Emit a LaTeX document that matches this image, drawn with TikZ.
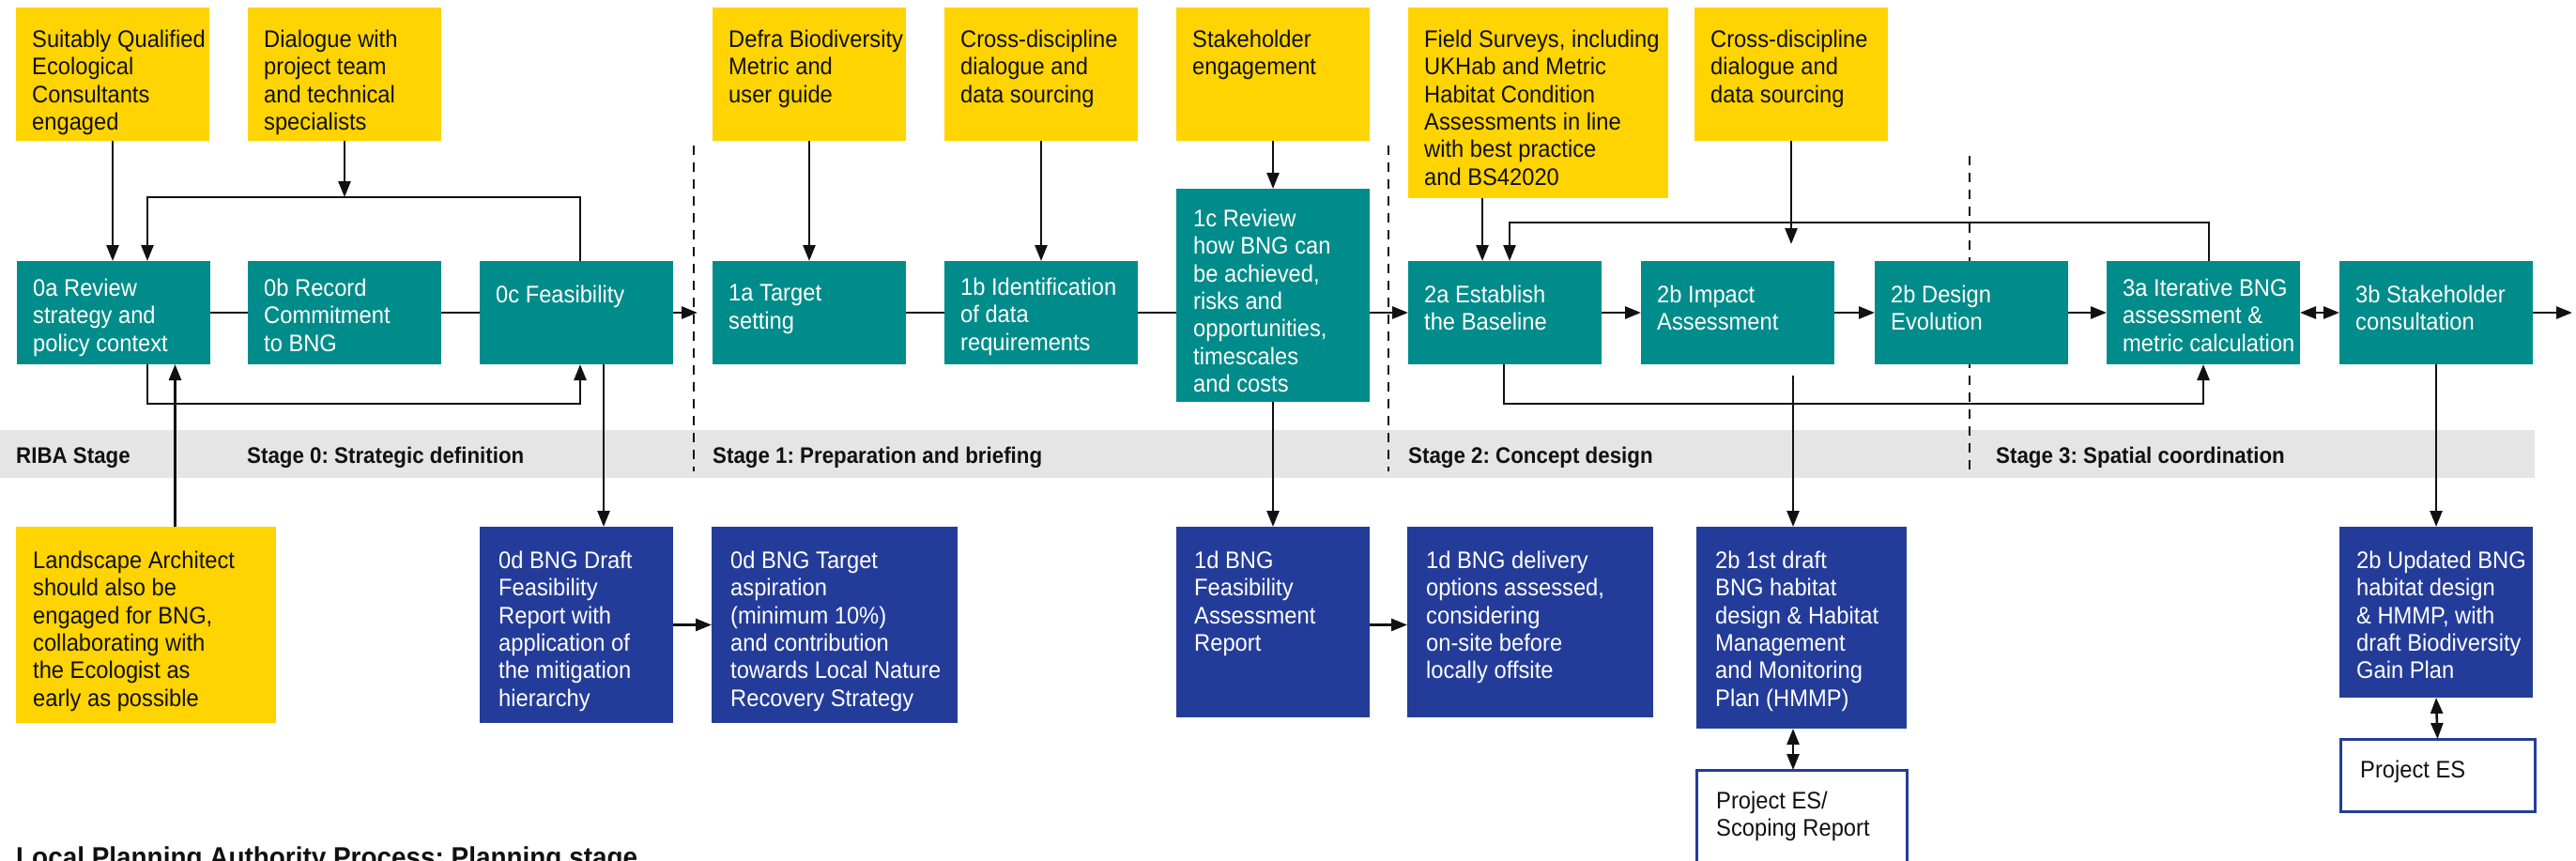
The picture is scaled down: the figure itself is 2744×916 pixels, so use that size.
\documentclass[tikz,border=0pt]{standalone}
\usepackage{fontspec}
\setmainfont{Liberation Sans}[FakeStretch=0.93]
\usetikzlibrary{arrows.meta}
\definecolor{bngyellow}{HTML}{FFD400}
\definecolor{bngteal}{HTML}{008C8A}
\definecolor{bngblue}{HTML}{243C99}
\definecolor{bandgray}{HTML}{E5E5E5}
\definecolor{inkblack}{HTML}{111111}

\newcommand\mkbox[9]{%
  \node[#1, minimum width=#5, minimum height=#6] (#2) at (#3,#4) {};
  \node[#1text] (#2t) at ({#3+#7},{#4+#8}) {#9};
}

\tikzset{
  box/.style={rectangle, inner sep=0pt, outer sep=0pt, anchor=north west},
  ybox/.style={box, fill=bngyellow},
  tbox/.style={box, fill=bngteal},
  bbox/.style={box, fill=bngblue},
  wbox/.style={box, fill=white, draw=bngblue, line width=3pt},
  txt/.style={font=\fontsize{25.5}{29.3}\selectfont, align=left, inner sep=0pt, anchor=north west},
  yboxtext/.style={txt, text=inkblack},
  tboxtext/.style={txt, text=white},
  bboxtext/.style={txt, text=white},
  wboxtext/.style={txt, text=inkblack},
  conn/.style={line width=2.6pt, draw=inkblack},
  arr/.style={conn, -{Triangle[length=17pt,width=13pt]}},
  darr/.style={conn, {Triangle[length=17pt,width=13pt]}-{Triangle[length=17pt,width=13pt]}},
  dashline/.style={line width=2.6pt, draw=inkblack, dash pattern=on 10pt off 8pt},
  band/.style={font=\bfseries\fontsize{24}{28}\selectfont, anchor=base west, inner sep=0pt, text=inkblack},
}

\begin{document}
\frenchspacing
\begin{tikzpicture}[x=1pt,y=-1pt]
\useasboundingbox (0,0) rectangle (2744,916);

% RIBA stage band
\fill[bandgray] (0,458) rectangle (2700,509);

% stage dividers
\draw[dashline] (739,155) -- (739,502);
\draw[dashline] (1479,155) -- (1479,502);
\draw[dashline] (2098,166) -- (2098,502);

% inputs (yellow)
\mkbox{ybox}{y1}{17}{8}{206}{142}{17}{24}{Suitably Qualified\\Ecological\\Consultants\\engaged}
\mkbox{ybox}{y2}{264}{8}{206}{142}{17}{24}{Dialogue with\\project team\\and technical\\specialists}
\mkbox{ybox}{y3}{759}{8}{206}{142}{17}{24}{Defra Biodiversity\\Metric and\\user guide}
\mkbox{ybox}{y4}{1006}{8}{206}{142}{17}{24}{Cross-discipline\\dialogue and\\data sourcing}
\mkbox{ybox}{y5}{1253}{8}{206}{142}{17}{24}{Stakeholder\\engagement}
\mkbox{ybox}{y6}{1500}{8}{277}{203}{17}{24}{Field Surveys, including\\UKHab and Metric\\Habitat Condition\\Assessments in line\\with best practice\\and BS42020}
\mkbox{ybox}{y7}{1805}{8}{206}{142}{17}{24}{Cross-discipline\\dialogue and\\data sourcing}

% process steps (teal)
\mkbox{tbox}{n0a}{18}{278}{206}{110}{17}{19}{0a Review\\strategy and\\policy context}
\mkbox{tbox}{n0b}{264}{278}{206}{110}{17}{19}{0b Record\\Commitment\\to BNG}
\mkbox{tbox}{n0c}{511}{278}{206}{110}{17}{26}{0c Feasibility}
\mkbox{tbox}{n1a}{759}{278}{206}{110}{17}{25}{1a Target\\setting}
\mkbox{tbox}{n1b}{1006}{278}{206}{110}{17}{18}{1b Identification\\of data\\requirements}
\mkbox{tbox}{n1c}{1253}{201}{206}{227}{18}{22}{1c Review\\how BNG can\\be achieved,\\risks and\\opportunities,\\timescales\\and costs}
\mkbox{tbox}{n2a}{1500}{278}{206}{110}{17}{26}{2a Establish\\the Baseline}
\mkbox{tbox}{n2b}{1748}{278}{206}{110}{17}{26}{2b Impact\\Assessment}
\mkbox{tbox}{n2d}{1997}{278}{206}{110}{17}{26}{2b Design\\Evolution}
\mkbox{tbox}{n3a}{2244}{278}{206}{110}{17}{19}{3a Iterative BNG\\assessment \&\\metric calculation}
\mkbox{tbox}{n3b}{2492}{278}{206}{110}{17}{26}{3b Stakeholder\\consultation}

% outputs
\mkbox{ybox}{la}{17}{561}{277}{209}{18}{26}{Landscape Architect\\should also be\\engaged for BNG,\\collaborating with\\the Ecologist as\\early as possible}
\mkbox{bbox}{d0}{511}{561}{206}{209}{20}{26}{0d BNG Draft\\Feasibility\\Report with\\application of\\the mitigation\\hierarchy}
\mkbox{bbox}{d0t}{758}{561}{262}{209}{20}{26}{0d BNG Target\\aspiration\\(minimum 10\%)\\and contribution\\towards Local Nature\\Recovery Strategy}
\mkbox{bbox}{f1}{1253}{561}{206}{203}{19}{26}{1d BNG\\Feasibility\\Assessment\\Report}
\mkbox{bbox}{f1d}{1499}{561}{262}{203}{20}{26}{1d BNG delivery\\options assessed,\\considering\\on-site before\\locally offsite}
\mkbox{bbox}{d2}{1807}{561}{224}{215}{20}{26}{2b 1st draft\\BNG habitat\\design \& Habitat\\Management\\and Monitoring\\Plan (HMMP)}
\mkbox{bbox}{u3}{2492}{561}{206}{182}{18}{26}{2b Updated BNG\\habitat design\\\& HMMP, with\\draft Biodiversity\\Gain Plan}
\mkbox{wbox}{pes1}{1807}{820}{224}{100}{21}{23}{Project ES/\\Scoping Report}
\mkbox{wbox}{pes2}{2493}{787}{207}{77}{21}{23}{Project ES}

% band labels
\node[band] (riba) at (17,493) {RIBA Stage};
\node[band] (s0) at (263,493) {Stage 0: Strategic definition};
\node[band] (s1) at (759,493) {Stage 1: Preparation and briefing};
\node[band] (s2) at (1500,493) {Stage 2: Concept design};
\node[band] (s3) at (2126,493) {Stage 3: Spatial coordination};

\node[txt, text=inkblack, font=\bfseries\fontsize{30}{36}\selectfont] (lpa) at (17,902) {Local Planning Authority Process: Planning stage};

% ---- connectors: stage 0
\draw[arr] (y1.south) -- (y1.south |- n0a.north);
\draw[arr] ([xshift=4]n0c.north) -- ++(0,-68) -| ([xshift=36]n0a.north);
\draw[arr] (y2.south) -- ++(0,60);
\draw[arr] ([xshift=36]n0a.south) -- ++(0,42) -| ([xshift=4]n0c.south);
\draw[arr] ([xshift=31]la.north) -- ([xshift=31]la.north |- n0a.south);
\draw[conn] (n0a.east) -- (n0b.west);
\draw[conn] (n0b.east) -- (n0c.west);
\draw[arr, shorten >=16pt] (n0c.east) -- (n1a.west);
\draw[arr] ([xshift=29]n0c.south) -- ([xshift=29]n0c.south |- d0.north);
\draw[arr] (d0.east) -- (d0.east -| d0t.west);

% ---- stage 1
\draw[arr] (y3.south) -- (y3.south |- n1a.north);
\draw[arr] (y4.south) -- (y4.south |- n1b.north);
\draw[arr] (y5.south) -- (n1c.north);
\draw[conn] (n1a.east) -- (n1b.west);
\draw[conn] (n1b.east) -- (n1b.east -| n1c.west);
\draw[arr] (n1c.south) -- (n1c.south |- f1.north);
\draw[arr] (f1.east |- d0.east) -- (f1d.west |- d0.east);
\draw[arr] (n1c.east |- n2a.west) -- (n2a.west);

% ---- stage 2 / 3
\draw[arr] ([xshift=-24]n2a.north |- y6.south) -- ([xshift=-24]n2a.north);
\draw[arr] ([xshift=6]n3a.north) -- ++(0,-41) -| ([xshift=5]n2a.north);
\draw[arr] (y7.south) -- ++(0,110);
\draw[arr] ([xshift=-1]n2a.south) -- ++(0,42) -| (n3a.south);
\draw[arr] (n2a.east) -- (n2b.west);
\draw[arr] (n2b.east) -- (n2d.west);
\draw[arr] (n2d.east) -- (n3a.west);
\draw[arr, shorten <=12pt] ([xshift=59]n2b.south) -- ([xshift=59]n2b.south |- d2.north);
\draw[darr] (n3a.east) -- (n3b.west);
\coordinate (out) at (2740,333);
\draw[arr] (n3b.east) -- (out);
\draw[arr] (n3b.south) -- (n3b.south |- u3.north);
\draw[darr] ([xshift=-9]d2.south) -- ([xshift=-9]d2.south |- pes1.north);
\draw[darr] (u3.south) -- (pes2.north);
\end{tikzpicture}
\end{document}
